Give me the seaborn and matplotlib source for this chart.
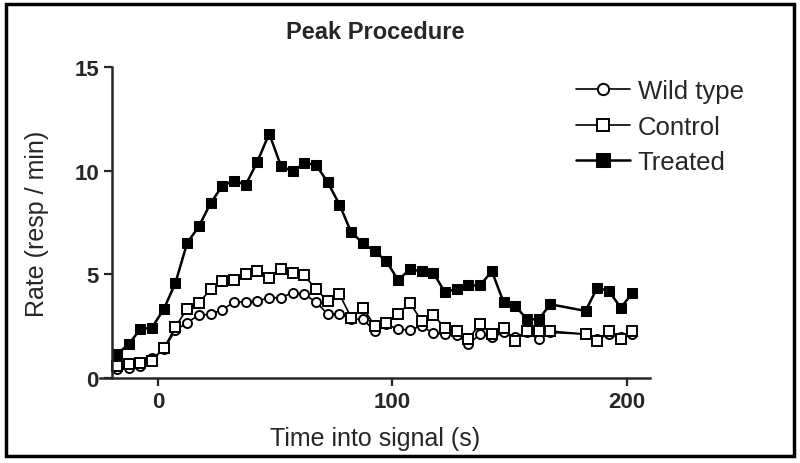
import numpy as np
import pandas as pd
import seaborn as sns
import matplotlib.pyplot as plt
from matplotlib.patches import Rectangle

# bin centres (s); two bins near 175 s have no data
time_s = [-17.5, -12.5, -7.5, -2.5, 2.5, 7.5, 12.5, 17.5, 22.5, 27.5,
          32.5, 37.5, 42.5, 47.5, 52.5, 57.5, 62.5, 67.5, 72.5, 77.5,
          82.5, 87.5, 92.5, 97.5, 102.5, 107.5, 112.5, 117.5, 122.5, 127.5,
          132.5, 137.5, 142.5, 147.5, 152.5, 157.5, 162.5, 167.5,
          182.5, 187.5, 192.5, 197.5, 202.5]

wild_type = [0.46, 0.50, 0.59, 0.95, 1.39, 2.30, 2.68, 3.04, 3.08, 3.30,
             3.67, 3.67, 3.72, 3.88, 3.88, 4.12, 4.04, 3.67, 3.08, 3.10,
             2.84, 2.84, 2.27, 2.60, 2.36, 2.32, 2.52, 2.16, 2.12, 2.10,
             1.63, 2.12, 1.96, 2.20, 2.00, 2.20, 1.88, 2.20,
             2.12, 1.88, 2.12, 1.96, 2.12]

control = [0.59, 0.67, 0.75, 0.83, 1.43, 2.47, 3.35, 3.63, 4.28, 4.68,
           4.73, 5.00, 5.16, 4.84, 5.27, 5.08, 4.95, 4.28, 3.72, 4.04,
           2.92, 3.40, 2.52, 2.68, 3.08, 3.64, 2.76, 3.03, 2.44, 2.27,
           1.90, 2.60, 2.12, 2.44, 1.79, 2.27, 2.27, 2.27,
           2.12, 1.79, 2.27, 1.88, 2.27]

treated = [1.15, 1.63, 2.36, 2.44, 3.32, 4.60, 6.52, 7.32, 8.44, 9.28,
           9.52, 9.33, 10.45, 11.80, 10.24, 9.97, 10.37, 10.29, 9.44, 8.37,
           7.03, 6.52, 6.12, 5.64, 4.73, 5.24, 5.16, 5.08, 4.15, 4.30,
           4.47, 4.47, 5.16, 3.67, 3.48, 2.84, 2.84, 3.56,
           3.24, 4.36, 4.20, 3.40, 4.09]

sns.set_style("ticks")
plt.rcParams['font.family'] = ['Liberation Sans', 'DejaVu Sans']

fig = plt.figure(figsize=(8, 4.64), dpi=100)
ax = fig.add_axes([0.125, 0.183, 0.6875, 0.67])

sns.lineplot(x=time_s, y=wild_type, ax=ax, color='black', lw=1.2, marker='o',
             markersize=6.5, markerfacecolor='white', markeredgecolor='black',
             markeredgewidth=1.4, label='Wild type')
sns.lineplot(x=time_s, y=control, ax=ax, color='black', lw=1.2, marker='s',
             markersize=7, markerfacecolor='white', markeredgecolor='black',
             markeredgewidth=1.4, label='Control')
sns.lineplot(x=time_s, y=treated, ax=ax, color='black', lw=1.8, marker='s',
             markersize=7.5, markerfacecolor='black', markeredgecolor='black',
             label='Treated')

ax.set_xlim(-24.7, 210)
ax.set_ylim(0, 15)
ax.set_xticks([0, 100, 200])
ax.set_yticks([0, 5, 10, 15])
ax.spines['left'].set_position(('data', -19.5))
ax.spines['right'].set_visible(False)
ax.spines['top'].set_visible(False)
for s in ['left', 'bottom']:
    ax.spines[s].set_linewidth(1.8)
ax.tick_params(direction='out', length=6, width=1.6, labelsize=16)
for lab in ax.get_xticklabels() + ax.get_yticklabels():
    lab.set_fontweight('bold')

ax.set_xlabel('Time into signal (s)', fontsize=18, labelpad=10)
ax.set_ylabel('Rate (resp / min)', fontsize=18, labelpad=18)
ax.set_title('Peak Procedure', fontsize=17, fontweight='bold', pad=21)

ax.get_legend().remove()
handles, labels = ax.get_legend_handles_labels()
fig.legend(handles, labels, loc='upper left', bbox_to_anchor=(0.704, 0.855),
           bbox_transform=fig.transFigure, frameon=False, fontsize=18.5,
           handlelength=2.1, handletextpad=0.3, labelspacing=0.45,
           borderpad=0, markerscale=1.25)

# outer frame around the figure
fig.patches.append(Rectangle((0.007, 0.015), 0.985, 0.975, transform=fig.transFigure,
                             fill=False, edgecolor='black', linewidth=2.5))

plt.savefig('out.png', dpi=100)
